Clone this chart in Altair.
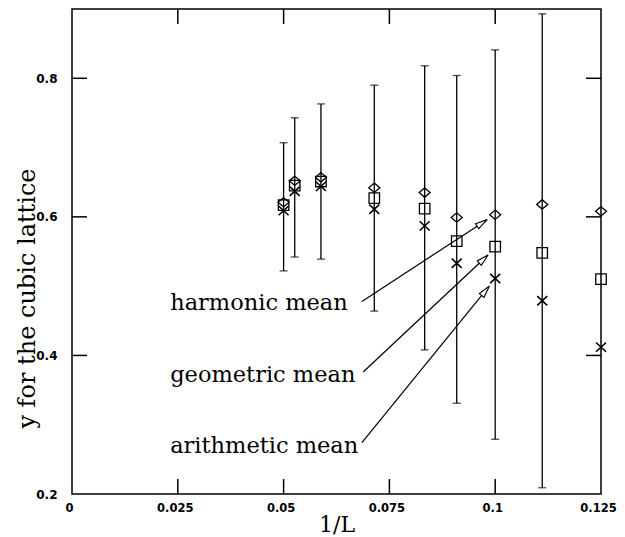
import math
import altair as alt
import pandas as pd

# ---- data ----
L = [20, 19, 17, 14, 12, 11, 10, 9, 8]
harmonic = [0.621, 0.652, 0.657, 0.642, 0.635, 0.599, 0.603, 0.618, 0.608]
geometric = [0.617, 0.645, 0.651, 0.627, 0.612, 0.565, 0.557, 0.548, 0.510]
arithmetic = [0.609, 0.637, 0.644, 0.611, 0.587, 0.533, 0.511, 0.479, 0.412]
err_low = [0.522, 0.542, 0.539, 0.464, 0.408, 0.331, 0.279, 0.209]
err_high = [0.707, 0.743, 0.763, 0.790, 0.818, 0.804, 0.841, 0.893]

x_domain = [0, 0.125]
y_domain = [0.2, 0.9]
x_tick_labels = [0, 0.025, 0.05, 0.075, 0.1, 0.125]
y_tick_labels = [0.2, 0.4, 0.6, 0.8]
x_inner_ticks = [0.025, 0.05, 0.075, 0.1]
y_inner_ticks = [0.4, 0.6, 0.8]

ann_labels = ["harmonic mean", "geometric mean", "arithmetic mean"]
ann_text_x = [0.0232, 0.0232, 0.0232]
ann_text_y = [0.4655, 0.362, 0.2587]
ann_x1 = [0.0685, 0.0688, 0.0685]
ann_y1 = [0.478, 0.376, 0.274]
ann_x2 = [0.0981, 0.0983, 0.0986]
ann_y2 = [0.596, 0.545, 0.500]

W, H = 529, 485
TK = 15  # inward tick length in px
TW = 1.5  # tick line width in px

inv_L = [1.0 / l for l in L]
pts = pd.DataFrame({"x": inv_L, "h": harmonic, "g": geometric, "a": arithmetic})
err = pd.DataFrame({"x": inv_L[: len(err_low)], "lo": err_low, "hi": err_high})

xspan = x_domain[1] - x_domain[0]
yspan = y_domain[1] - y_domain[0]
angles = []
for x1, y1, x2, y2 in zip(ann_x1, ann_y1, ann_x2, ann_y2):
    dx = (x2 - x1) * W / xspan
    dy = (y2 - y1) * H / yspan
    angles.append(math.degrees(math.atan2(dx, dy)) % 360)
ann = pd.DataFrame({"label": ann_labels, "tx": ann_text_x, "ty": ann_text_y,
                    "x1": ann_x1, "y1": ann_y1, "x2": ann_x2, "y2": ann_y2, "ang": angles})

xs = alt.Scale(domain=x_domain, nice=False, zero=False)
ys = alt.Scale(domain=y_domain, nice=False, zero=False)

x_axis = alt.Axis(values=x_tick_labels, format=".3~g", labelFont="DejaVu Sans", labelFontSize=11.5,
                  labelFontWeight="bold", labelColor="black", labelPadding=8, labelFlush=False,
                  labelOffset=-3, domain=False, grid=False, ticks=False,
                  title="1/L", titleFont="DejaVu Serif", titleFontSize=22, titleFontWeight="normal",
                  titleColor="black", titleY=30, titleBaseline="middle")
y_axis = alt.Axis(values=y_tick_labels, format=".1f", labelFont="DejaVu Sans", labelFontSize=12,
                  labelFontWeight="bold", labelColor="black", labelPadding=15, labelFlush=False,
                  domain=False, grid=False, ticks=False,
                  title="y for the cubic lattice", titleFont="DejaVu Serif", titleFontSize=24,
                  titleFontWeight="normal", titleColor="black", titleAngle=270, titleX=-45,
                  titleY=289, titleAlign="center", titleBaseline="middle")


def X(f):
    return alt.X(f, scale=xs, axis=None)


def Y(f):
    return alt.Y(f, scale=ys, axis=None)


# inward frame ticks on all four sides, as thin rectangles through the shared scales
tx_len = TK * xspan / W
ty_len = TK * yspan / H
hx = TW / 2 * xspan / W
hy = TW / 2 * yspan / H
rows = []
for v in x_inner_ticks:
    rows.append({"x": v - hx, "xe": v + hx, "y": y_domain[0], "ye": y_domain[0] + ty_len})
    rows.append({"x": v - hx, "xe": v + hx, "y": y_domain[1] - ty_len, "ye": y_domain[1]})
for v in y_inner_ticks:
    rows.append({"x": x_domain[0], "xe": x_domain[0] + tx_len, "y": v - hy, "ye": v + hy})
    rows.append({"x": x_domain[1] - tx_len, "xe": x_domain[1], "y": v - hy, "ye": v + hy})
ticks_df = pd.DataFrame(rows)

frame_ticks = alt.Chart(ticks_df).mark_rect(color="black", opacity=1).encode(
    x=alt.X("x:Q", scale=xs, axis=x_axis, title="1/L"),
    y=alt.Y("y:Q", scale=ys, axis=y_axis, title="y for the cubic lattice"),
    x2="xe:Q", y2="ye:Q")

SW = 1.3

bars = alt.Chart(err).mark_rule(color="black", strokeWidth=SW).encode(
    x=X("x:Q"), y=Y("lo:Q"), y2="hi:Q")
cap_lo = alt.Chart(err).mark_tick(orient="horizontal", color="black", size=8, thickness=SW).encode(
    x=X("x:Q"), y=Y("lo:Q"))
cap_hi = alt.Chart(err).mark_tick(orient="horizontal", color="black", size=8, thickness=SW).encode(
    x=X("x:Q"), y=Y("hi:Q"))

diamond = alt.Chart(pts).mark_point(shape="M0,-0.85L1,0L0,0.85L-1,0Z", size=121, filled=False,
                                    color="black", strokeWidth=SW, opacity=1).encode(
    x=X("x:Q"), y=Y("h:Q"))
square = alt.Chart(pts).mark_point(shape="square", size=110, filled=False,
                                   color="black", strokeWidth=SW, opacity=1).encode(
    x=X("x:Q"), y=Y("g:Q"))
cross = alt.Chart(pts).mark_point(shape="M-1,-0.93L1,0.93M-1,0.93L1,-0.93", size=100, filled=False,
                                  color="black", strokeWidth=1.6, opacity=1).encode(
    x=X("x:Q"), y=Y("a:Q"))

ann_lines = alt.Chart(ann).mark_rule(color="black", strokeWidth=1.2).encode(
    x=X("x1:Q"), y=Y("y1:Q"), x2="x2:Q", y2="y2:Q")
ann_heads = alt.Chart(ann).mark_point(shape="M0,0L-0.5,2L0.5,2Z", size=144, filled=True, fill="white",
                                      stroke="black", strokeWidth=1.1, opacity=1).encode(
    x=X("x2:Q"), y=Y("y2:Q"), angle=alt.Angle("ang:Q", scale=None))
ann_text = alt.Chart(ann).mark_text(font="DejaVu Serif", fontSize=22.5, align="left",
                                    baseline="alphabetic", color="black").encode(
    x=X("tx:Q"), y=Y("ty:Q"), text="label:N")

chart = alt.layer(frame_ticks, bars, cap_lo, cap_hi, ann_lines, ann_heads, ann_text,
                  diamond, square, cross).resolve_axis(
    x="independent", y="independent"
).properties(
    width=W, height=H,
    autosize=alt.AutoSizeParams(type="none"),
    padding={"left": 64, "top": 1, "right": 16, "bottom": 44},
    background="white",
).configure_view(stroke="black", strokeWidth=1.5, fill="transparent")

chart.save("out.html", embed_options={"renderer": "svg", "actions": False})
